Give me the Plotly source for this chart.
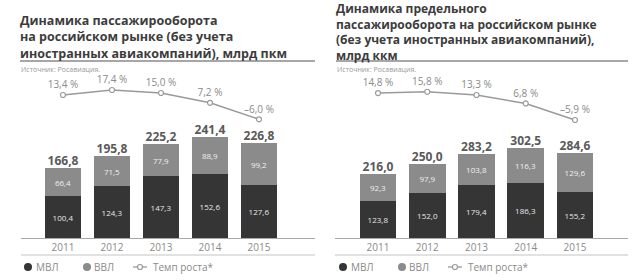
import plotly.graph_objects as go

W, H = 635, 280

# ---------------- data ----------------
years = ["2011", "2012", "2013", "2014", "2015"]

left_title = ["Динамика пассажирооборота", "на российском рынке (без учета",
              "иностранных авиакомпаний), млрд пкм"]
right_title = ["Динамика предельного", "пассажирооборота на российском рынке",
               "(без учета иностранных авиакомпаний),", "млрд ккм"]
source_text = "Источник: Росавиация."

left_mvl = [100.4, 124.3, 147.3, 152.6, 127.6]
left_vvl = [66.4, 71.5, 77.9, 88.9, 99.2]
left_total = [166.8, 195.8, 225.2, 241.4, 226.8]
left_growth = [13.4, 17.4, 15.0, 7.2, -6.0]

right_mvl = [123.8, 152.0, 179.4, 186.3, 155.2]
right_vvl = [92.3, 97.9, 103.8, 116.3, 129.6]
right_total = [216.0, 250.0, 283.2, 302.5, 284.6]
right_growth = [14.8, 15.8, 13.3, 6.8, -5.9]

legend_labels = ["МВЛ", "ВВЛ", "Темп роста*"]

# ---------------- styles ----------------
FONT = "Open Sans"
C_MVL = "#353535"
C_VVL = "#8b8b8b"
C_LINE = "#9a9a9a"
C_TXT = "#8a8a8a"
C_TITLE = "#3c3c3c"


def fmt(v):
    return f"{v:.1f}".replace(".", ",")


def fmt_pct(v):
    s = f"{abs(v):.1f}".replace(".", ",") + " %"
    return ("–" + s) if v < 0 else s


def px(x):
    return x / W


def py(y):
    return 1 - y / H


# plot area (pixels): bars from y=80 (top) to y=238 (baseline)
TOP, BASE = 80, 238
ydom = [py(BASE), py(TOP)]
DOM_H = BASE - TOP

panels = [
    dict(mvl=left_mvl, vvl=left_vvl, total=left_total, growth=left_growth,
         xa="x", ya="y", ya_g="y3", xdom=[px(21), px(315)], xrange=[-0.857, 5.143],
         yrange=[0, 377], grange=[-100.8, 25.4], width=0.755),
    dict(mvl=right_mvl, vvl=right_vvl, total=right_total, growth=right_growth,
         xa="x2", ya="y2", ya_g="y4", xdom=[px(335), px(628)], xrange=[-0.873, 5.076],
         yrange=[0, 531], grange=[-96.4, 24.8], width=0.75),
]

fig = go.Figure()
shapes = []
annotations = []

for p in panels:
    fig.add_trace(go.Bar(
        x=years, y=p["mvl"], xaxis=p["xa"], yaxis=p["ya"], width=p["width"],
        marker=dict(color=C_MVL, line=dict(width=0)),
        text=[fmt(v) for v in p["mvl"]], textposition="inside", insidetextanchor="middle",
        textangle=0, textfont=dict(family=FONT, size=8, color="#e6e6e6"),
        showlegend=False, hoverinfo="skip"))
    fig.add_trace(go.Bar(
        x=years, y=p["vvl"], xaxis=p["xa"], yaxis=p["ya"], width=p["width"],
        marker=dict(color=C_VVL, line=dict(width=0)),
        text=[fmt(v) for v in p["vvl"]], textposition="inside", insidetextanchor="middle",
        textangle=0, textfont=dict(family=FONT, size=8, color="#f0f0f0"),
        showlegend=False, hoverinfo="skip"))
    fig.add_trace(go.Scatter(
        x=years, y=p["total"], xaxis=p["xa"], yaxis=p["ya"], mode="text",
        text=[fmt(v) for v in p["total"]], textposition="top center", cliponaxis=False,
        textfont=dict(family=FONT, size=12, color="#5a5a5a", weight="bold"),
        showlegend=False, hoverinfo="skip"))
    fig.add_trace(go.Scatter(
        x=years, y=p["growth"], xaxis=p["xa"], yaxis=p["ya_g"], mode="lines+markers+text",
        line=dict(color=C_LINE, width=1.5), cliponaxis=False,
        marker=dict(symbol="circle", size=5, color="white", line=dict(color=C_LINE, width=1.2)),
        text=[fmt_pct(v) for v in p["growth"]], textposition="top center",
        textfont=dict(family=FONT, size=10, color=C_TXT),
        showlegend=False, hoverinfo="skip"))
    # dotted connectors from growth point down to the total label
    g0, g1 = p["grange"]
    for yr, t, g in zip(years, p["total"], p["growth"]):
        frac = t / p["yrange"][1] + 12 / DOM_H
        yend = g0 + frac * (g1 - g0)
        shapes.append(dict(type="line", xref=p["xa"], yref=p["ya_g"], x0=yr, x1=yr,
                           y0=g, y1=yend, line=dict(color="#b0b0b0", width=1, dash="dot"),
                           layer="below"))

axis_common = dict(showgrid=False, zeroline=False, fixedrange=True)
fig.update_layout(
    width=W, height=H, margin=dict(l=0, r=0, t=0, b=0),
    paper_bgcolor="white", plot_bgcolor="white",
    barmode="stack", bargap=0, showlegend=False,
    font=dict(family=FONT, color=C_TXT),
    xaxis=dict(domain=panels[0]["xdom"], range=panels[0]["xrange"], anchor="y", type="category",
               showline=True, linecolor="#a8a8a8", linewidth=1, ticks="",
               tickfont=dict(family=FONT, size=10, color=C_TXT), **axis_common),
    yaxis=dict(domain=ydom, range=panels[0]["yrange"], anchor="x", visible=False, **axis_common),
    yaxis3=dict(domain=ydom, range=panels[0]["grange"], anchor="x", overlaying="y", visible=False, **axis_common),
    xaxis2=dict(domain=panels[1]["xdom"], range=panels[1]["xrange"], anchor="y2", type="category",
                showline=True, linecolor="#a8a8a8", linewidth=1, ticks="",
                tickfont=dict(family=FONT, size=10, color=C_TXT), **axis_common),
    yaxis2=dict(domain=ydom, range=panels[1]["yrange"], anchor="x2", visible=False, **axis_common),
    yaxis4=dict(domain=ydom, range=panels[1]["grange"], anchor="x2", overlaying="y2", visible=False, **axis_common),
)

# ---------------- titles, sources, rules ----------------
for tx, lines, yc, fs in [(20, left_title, 37.5, 12.5), (336, right_title, 31.5, 12)]:
    annotations.append(dict(xref="paper", yref="paper", x=px(tx - 1), y=py(yc),
                            xanchor="left", yanchor="middle", text="<b>" + "<br>".join(lines) + "</b>",
                            showarrow=False, align="left", borderpad=0,
                            font=dict(family=FONT, size=fs, color=C_TITLE)))
for sx in [20, 336]:
    annotations.append(dict(xref="paper", yref="paper", x=px(sx - 1), y=py(69), xanchor="left", yanchor="middle",
                            text=source_text, showarrow=False, font=dict(family=FONT, size=7, color="#999")))

for x0, x1 in [(20, 315), (336, 628)]:
    shapes.append(dict(type="line", xref="paper", yref="paper", x0=px(x0), x1=px(x1), y0=py(61), y1=py(61),
                       line=dict(color="#8a8a8a", width=1.5)))
for x0, x1 in [(21, 315), (335, 628)]:
    shapes.append(dict(type="line", xref="paper", yref="paper", x0=px(x0), x1=px(x1), y0=py(255), y1=py(255),
                       line=dict(color="#c4c4c4", width=1)))

# ---------------- legends ----------------
LY = 267
for base in [0, 315]:
    dots = [(28 + base, C_MVL, 34 + base, legend_labels[0]), (87 + base, C_VVL, 92 + base, legend_labels[1])]
    for cx, col, tx, lab in dots:
        shapes.append(dict(type="circle", xref="paper", yref="paper", xsizemode="pixel", ysizemode="pixel",
                           xanchor=px(cx), yanchor=py(LY), x0=-4, x1=4, y0=-4, y1=4,
                           fillcolor=col, line=dict(width=0)))
        annotations.append(dict(xref="paper", yref="paper", x=px(tx), y=py(LY), xanchor="left", yanchor="middle",
                                text=lab, showarrow=False, font=dict(family=FONT, size=10, color=C_TXT)))
    shapes.append(dict(type="line", xref="paper", yref="paper", x0=px(133 + base), x1=px(147 + base),
                       y0=py(LY), y1=py(LY), line=dict(color=C_LINE, width=1.3)))
    shapes.append(dict(type="circle", xref="paper", yref="paper", xsizemode="pixel", ysizemode="pixel",
                       xanchor=px(140 + base), yanchor=py(LY), x0=-2.5, x1=2.5, y0=-2.5, y1=2.5,
                       fillcolor="white", line=dict(color=C_LINE, width=1.2)))
    annotations.append(dict(xref="paper", yref="paper", x=px(151 + base), y=py(LY), xanchor="left", yanchor="middle",
                            text=legend_labels[2], showarrow=False, font=dict(family=FONT, size=10, color=C_TXT)))

fig.update_layout(shapes=shapes, annotations=annotations)
fig.write_html("out.html", config={"displayModeBar": False},
               post_script="document.body.style.margin='0';document.body.style.overflow='hidden';")
